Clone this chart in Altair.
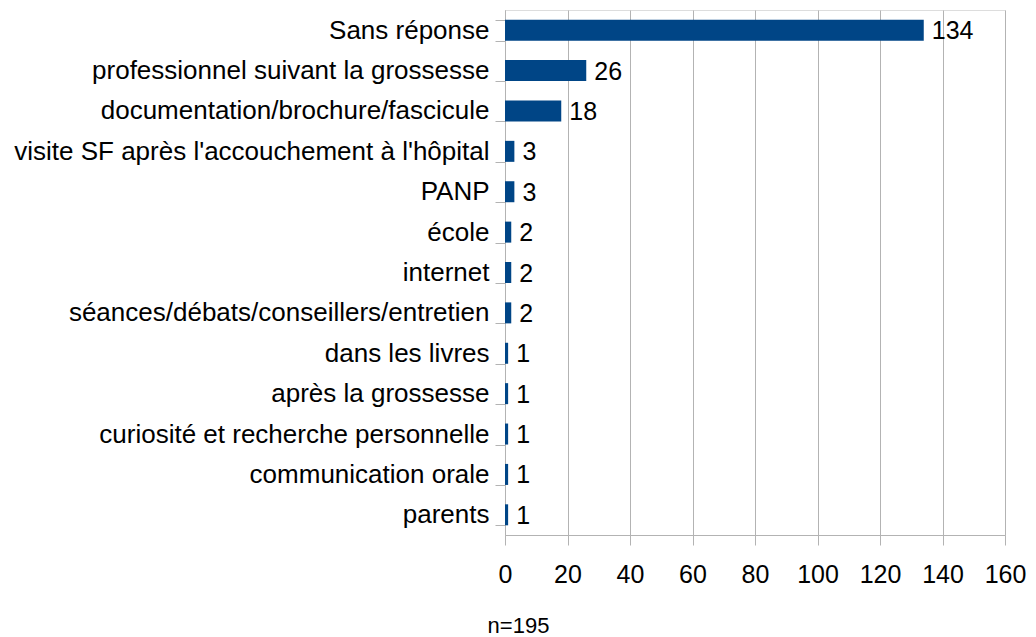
import altair as alt
import pandas as pd

categories = [
    "Sans réponse",
    "professionnel suivant la grossesse",
    "documentation/brochure/fascicule",
    "visite SF après l'accouchement à l'hôpital",
    "PANP",
    "école",
    "internet",
    "séances/débats/conseillers/entretien",
    "dans les livres",
    "après la grossesse",
    "curiosité et recherche personnelle",
    "communication orale",
    "parents",
]
values = [134, 26, 18, 3, 3, 2, 2, 2, 1, 1, 1, 1, 1]
x_ticks = [0, 20, 40, 60, 80, 100, 120, 140, 160]
caption = "n=195"

df = pd.DataFrame({"cat": categories, "val": values})

FONT = "Liberation Sans"
y_enc = alt.Y("cat:N", sort=categories, title=None,
              scale=alt.Scale(paddingInner=0.48, paddingOuter=0.24),
              axis=alt.Axis(labelFontSize=26, labelFont=FONT, labelColor="#000000",
                            labelLimit=800, labelPadding=6, tickSize=10,
                            tickColor="#b3b3b3", domainColor="#b3b3b3",
                            tickBand="extent", grid=False))
x_enc = alt.X("val:Q", title=caption,
              scale=alt.Scale(domain=[0, 160], nice=False),
              axis=alt.Axis(values=x_ticks, labelFontSize=25, labelFont=FONT,
                            labelColor="#000000", labelPadding=17, tickSize=10,
                            labelFlush=False, labelOverlap=False,
                            tickColor="#b3b3b3", domainColor="#b3b3b3",
                            gridColor="#b3b3b3", grid=True,
                            titleFont=FONT, titleFontSize=22, titleFontWeight="normal",
                            titleColor="#000000", titleX=13, titleY=97,
                            titleAlign="center", titleBaseline="alphabetic"))

bars = alt.Chart(df).mark_bar(color="#004586").encode(x=x_enc, y=y_enc)
labels = alt.Chart(df).mark_text(align="left", baseline="middle", dx=8, dy=1,
                                 fontSize=25, font=FONT, color="#000000").encode(
    x="val:Q", y=alt.Y("cat:N", sort=categories), text="val:Q")

chart = (bars + labels).properties(
    width=500, height=525,
    autosize=alt.AutoSizeParams(type="none"),
    padding={"left": 505, "top": 10, "right": 31, "bottom": 102},
).configure_view(stroke="#b3b3b3", strokeWidth=1).configure(background="white")

chart.save("out.html", embed_options={"renderer": "svg", "actions": False})
